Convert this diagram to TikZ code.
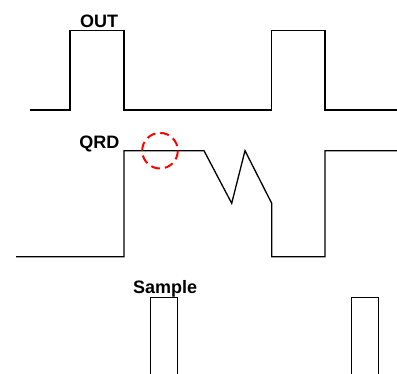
\documentclass[tikz,border=0pt]{standalone}
\usepackage{fontspec}
\setmainfont{Liberation Sans}
\begin{document}
\begin{tikzpicture}[x=1pt,y=-1pt,
  wave/.style={line width=1.3pt,black,line join=miter},
  lbl/.style={font=\fontsize{18}{20}\selectfont\bfseries,inner sep=0pt},
  mark circle/.style={red,line width=2pt,dash pattern=on 9pt off 5pt}]
\useasboundingbox (0,0) rectangle (397,374);
% OUT
\node[lbl,anchor=base] (out) at (99,28) {OUT};
\draw[wave] (30,110) -- (70,110) -- (70,30.7) -- (124,30.7) -- (124,110) -- (271.7,110) -- (271.7,30.7) -- (325,30.7) -- (325,110) -- (397,110);
% QRD
\node[lbl,anchor=base east] (qrd) at (119.5,149) {QRD};
\draw[wave] (16,256.7) -- (124,256.7) -- (124,150.7) -- (204,150.7) -- (231.7,203.3) -- (245,150.7) -- (271.7,203.3) -- (271.7,256.7) -- (325,256.7) -- (325,150.7) -- (397,150.7);
\draw[mark circle] (160,150.7) circle[radius=17.8];
% Sample
\node[lbl,anchor=base west] (smp) at (133,293.5) {Sample};
\draw[wave] (150.7,375) -- (150.7,297.3) -- (177.3,297.3) -- (177.3,375);
\draw[wave] (351.7,375) -- (351.7,297.3) -- (378.3,297.3) -- (378.3,375);
\end{tikzpicture}
\end{document}
